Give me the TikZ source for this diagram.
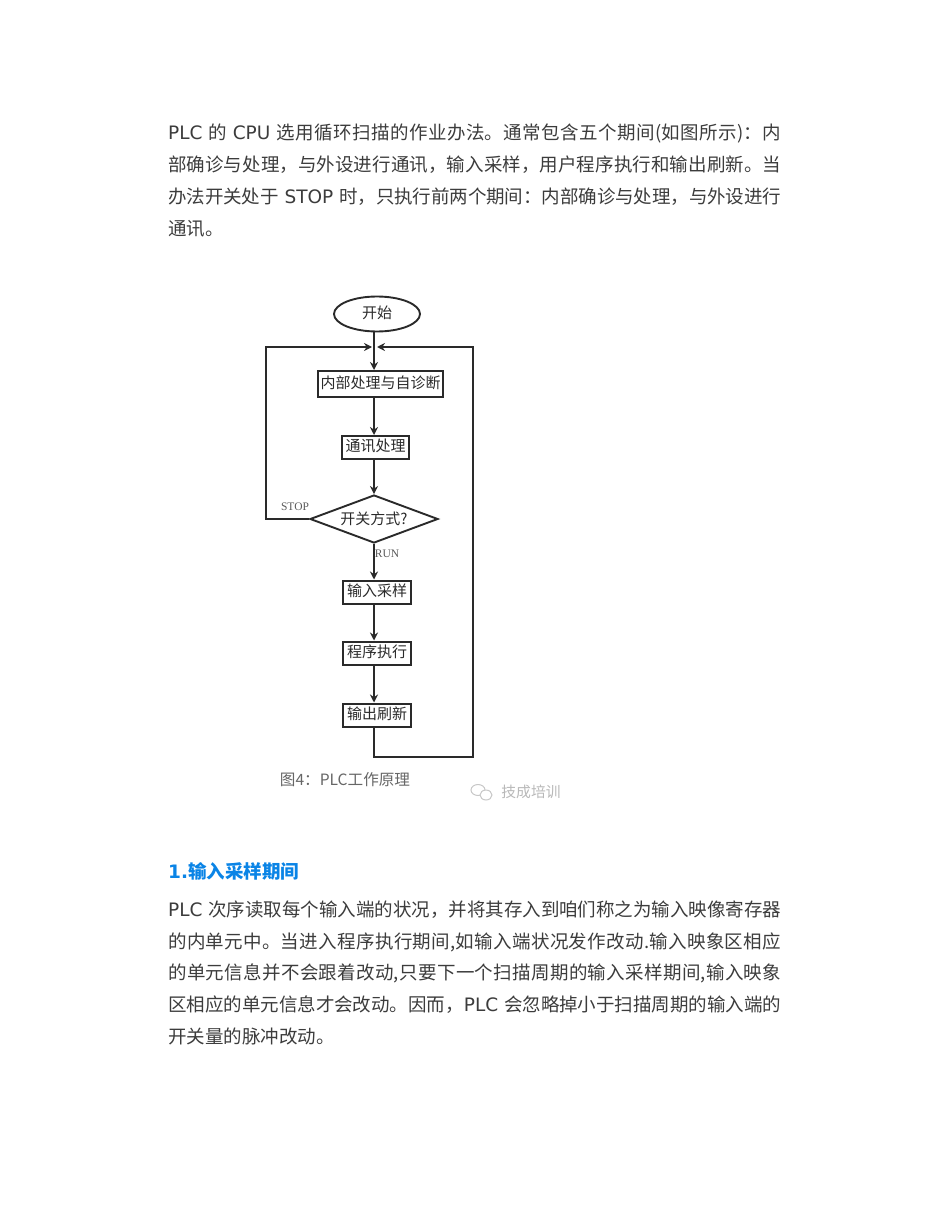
\documentclass[tikz,border=0pt]{standalone}
\usepackage{fontspec}
\usetikzlibrary{positioning,shapes.geometric,arrows.meta}
\setmainfont{Noto Sans CJK SC}
\newfontfamily\latfont{DejaVu Sans}
\newfontfamily\labfont{Liberation Serif}
\XeTeXlinebreaklocale "zh"
\XeTeXlinebreakskip=0pt plus 1pt minus 0.5pt
\definecolor{bodygray}{HTML}{3C3C3C}
\definecolor{flowgray}{HTML}{2A2A2A}
\definecolor{headblue}{HTML}{0A84E6}
\newcommand{\lat}[1]{{\latfont #1}}
\newcommand{\fullline}[1]{\parbox[t]{613pt}{\parindent=0pt\parfillskip=0pt\tolerance=9999\hyphenpenalty=10000\spaceskip=5.85pt #1}}
\tikzset{
  bodyline/.style={anchor=base west,inner sep=0pt,text=bodygray,font=\fontsize{18.5}{24}\selectfont},
  procbox/.style={draw=flowgray,line width=2pt,inner sep=0pt,minimum height=23pt,text height=12pt,text depth=4pt,text=flowgray,font=\fontsize{15}{18}\selectfont},
  flow/.style={draw=flowgray,line width=1.9pt,-{Stealth[length=8pt,width=8pt]}},
  loopline/.style={draw=flowgray,line width=1.9pt},
  steplabel/.style={inner sep=0pt,text=black!65,font=\labfont\fontsize{11.5}{13}\selectfont},
}
\begin{document}
\begin{tikzpicture}[x=1pt,y=-1pt]
  \useasboundingbox (0,0) rectangle (950,1230);
  % first paragraph
  \node[bodyline] (a1) at (168,140) {\fullline{\lat{PLC} 的 \lat{CPU} 选用循环扫描的作业办法。通常包含五个期间(如图所示)：内}};
  \node[bodyline] (a2) at (168,172) {\fullline{部确诊与处理，与外设进行通讯，输入采样，用户程序执行和输出刷新。当}};
  \node[bodyline] (a3) at (168,204) {\fullline{办法开关处于 \lat{STOP} 时，只执行前两个期间：内部确诊与处理，与外设进行}};
  \node[bodyline] (a4) at (168,236) {通讯。};
  % flowchart
  \node[ellipse,draw=flowgray,line width=1.9pt,minimum width=86pt,minimum height=35pt,inner sep=0pt,text height=12pt,text depth=4pt,text=flowgray,font=\fontsize{15}{18}\selectfont] (start) at (377,314) {开始};
  \coordinate (join) at (374,347);
  \node[procbox,minimum width=125pt,minimum height=26pt] (selfcheck) at (380.5,384) {内部处理与自诊断};
  \node[procbox,minimum width=67pt,below=37pt of selfcheck.south,anchor=north,xshift=-5pt] (comm) {通讯处理};
  \node[diamond,draw=flowgray,line width=1.9pt,aspect=2.67,minimum width=128pt,minimum height=48pt,inner sep=0pt,text=flowgray,font=\fontsize{15}{18}\selectfont] (mode) at (374,519) {开关方式?};
  \node[procbox,minimum width=68pt] (sample) at (377,592) {输入采样};
  \node[procbox,minimum width=68pt,below=36pt of sample] (run) {程序执行};
  \node[procbox,minimum width=68pt,below=37pt of run] (refresh) {输出刷新};
  \coordinate (leftup) at (266,347);
  \coordinate (rightup) at (473,347);
  \coordinate (rightdown) at (473,757);
  \draw[loopline] (start.south -| join) -- (join);
  \draw[flow] (join) -- (selfcheck.north -| join);
  \draw[flow] (selfcheck.south -| join) -- (comm.north -| join);
  \draw[flow] (comm.south -| join) -- (mode.north -| join);
  \draw[flow] (mode.south -| join) -- (sample.north -| join);
  \draw[flow] (sample.south -| join) -- (run.north -| join);
  \draw[flow] (run.south -| join) -- (refresh.north -| join);
  \draw[flow] (mode.west) -- (mode.west -| leftup) -- (leftup) -- ([xshift=-2pt]join);
  \draw[flow] (refresh.south -| join) -- (rightdown -| join) -- (rightdown) -- (rightup) -- ([xshift=3pt]join);
  \node[steplabel] (stoplab) at (295,507) {STOP};
  \node[steplabel] (runlab) at (387,554) {RUN};
  % caption and mark
  \node[inner sep=0pt,text=black!60,font=\fontsize{15.6}{18}\selectfont] (cap) at (345,780) {图4：PLC工作原理};
  \node[inner sep=0pt,text=black!28,font=\fontsize{14.8}{18}\selectfont] (mark) at (531,792) {技成培训};
  \draw[black!22,line width=1pt] (478,790) ellipse (7pt and 5.5pt);
  \draw[black!22,line width=1pt,fill=white] (486,795) ellipse (6pt and 5pt);
  % second paragraph
  \node[bodyline,text=headblue,font=\bfseries\fontsize{18.5}{24}\selectfont] (b0) at (168,878) {\lat{\bfseries 1.}输入采样期间};
  \node[bodyline] (b1) at (168,916) {\fullline{\lat{PLC} 次序读取每个输入端的状况，并将其存入到咱们称之为输入映像寄存器}};
  \node[bodyline] (b2) at (168,948) {\fullline{的内单元中。当进入程序执行期间,如输入端状况发作改动.输入映象区相应}};
  \node[bodyline] (b3) at (168,979) {\fullline{的单元信息并不会跟着改动,只要下一个扫描周期的输入采样期间,输入映象}};
  \node[bodyline] (b4) at (168,1011) {\fullline{区相应的单元信息才会改动。因而，\lat{PLC} 会忽略掉小于扫描周期的输入端的}};
  \node[bodyline] (b5) at (168,1043) {开关量的脉冲改动。};
\end{tikzpicture}
\end{document}
